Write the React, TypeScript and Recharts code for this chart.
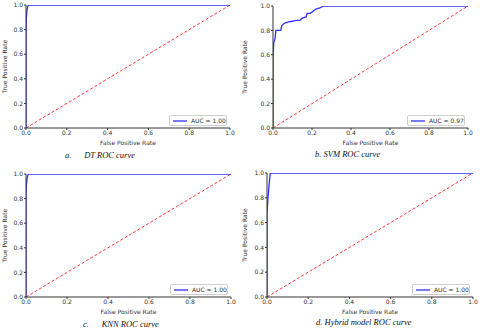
import { LineChart, Line, XAxis, YAxis, Legend } from 'recharts'

// ROC curves (fpr / tpr pairs)
const dtFpr = [0, 0, 0.002, 0.005, 0.009, 0.012, 1]
const dtTpr = [0, 0.8, 0.9, 0.96, 0.99, 1, 1]

const svmFpr = [0, 0, 0.004, 0.01, 0.015, 0.04, 0.045, 0.06, 0.08, 0.1, 0.11, 0.14, 0.15, 0.17, 0.175, 0.19, 0.2, 0.22, 0.24, 0.26, 1]
const svmTpr = [0, 0.58, 0.7, 0.73, 0.8, 0.8, 0.84, 0.86, 0.87, 0.875, 0.88, 0.885, 0.9, 0.91, 0.94, 0.94, 0.95, 0.975, 0.985, 1, 1]

const knnFpr = [0, 0, 0.002, 0.005, 0.009, 0.013, 1]
const knnTpr = [0, 0.82, 0.91, 0.96, 0.99, 1, 1]

const hybFpr = [0, 0, 0.005, 0.01, 0.016, 1]
const hybTpr = [0, 0.68, 0.8, 0.9, 1, 1]

const chanceFpr = [0, 1]
const chanceTpr = [0, 1]

const ticks = [0, 0.2, 0.4, 0.6, 0.8, 1]
const aucLabels = ['AUC = 1.00', 'AUC = 0.97', 'AUC = 1.00', 'AUC = 1.00']

const toPts = (xs: number[], ys: number[]) => xs.map((x, i) => ({ x, y: ys[i] }))

const FONT = '"DejaVu Sans", sans-serif'
const AXIS = '#333'

interface PanelProps {
  left: number
  top: number
  width: number
  height: number
  yw: number
  mTop: number
  mRight: number
  pts: { x: number; y: number }[]
  auc: string
}

function Panel({ left, top, width, height, yw, mTop, mRight, pts, auc }: PanelProps) {
  const xh = 18
  const legendW = 58
  const legendH = 11
  const plotBottom = height - xh
  const tickStyle = { fill: AXIS, fontSize: 6, fontFamily: FONT }
  return (
    <div style={{ position: 'absolute', left, top }}>
      <LineChart width={width} height={height} margin={{ top: mTop, right: mRight, left: 0, bottom: 0 }}>
        <XAxis
          type="number"
          dataKey="x"
          domain={[0, 1]}
          ticks={ticks}
          tickFormatter={(v) => v.toFixed(1)}
          tick={tickStyle}
          tickSize={2}
          tickMargin={1}
          stroke={AXIS}
          height={xh}
          allowDataOverflow
          label={{ value: 'False Positive Rate', position: 'insideBottom', offset: 1, fill: AXIS, fontSize: 6, fontFamily: FONT }}
        />
        <XAxis xAxisId="top" orientation="top" type="number" domain={[0, 1]} tick={false} tickLine={false} height={0} stroke={AXIS} />
        <YAxis
          type="number"
          dataKey="y"
          domain={[0, 1]}
          ticks={ticks}
          tickFormatter={(v) => v.toFixed(1)}
          tick={tickStyle}
          tickSize={2}
          tickMargin={1}
          stroke={AXIS}
          width={yw}
          allowDataOverflow
          label={{
            content: (p: any) => {
              const vb = p.viewBox
              const cx = vb.x + 4
              const cy = vb.y + vb.height / 2
              return (
                <text x={cx} y={cy} transform={`rotate(-90 ${cx} ${cy})`} textAnchor="middle" dominantBaseline="central" fill={AXIS} fontSize={6} fontFamily={FONT}>
                  True Positive Rate
                </text>
              )
            },
          }}
        />
        <YAxis yAxisId="right" orientation="right" type="number" domain={[0, 1]} tick={false} tickLine={false} width={0} stroke={AXIS} />
        <Line
          data={toPts(chanceFpr, chanceTpr)}
          dataKey="y"
          stroke="#ff2020"
          strokeWidth={0.9}
          strokeDasharray="3 2"
          dot={false}
          legendType="none"
          isAnimationActive={false}
        />
        <Line
          data={pts}
          dataKey="y"
          name={auc}
          type="linear"
          stroke="#3030ff"
          strokeWidth={1.3}
          dot={false}
          isAnimationActive={false}
        />
        <Legend
          layout="vertical"
          align="center"
          verticalAlign="middle"
          wrapperStyle={{ left: width - mRight - 3 - legendW, top: plotBottom - 2 - legendH, width: legendW, height: legendH }}
          content={(p: any) => {
            const item = (p.payload || []).find((e: any) => e.type !== 'none')
            return (
              <div style={{ boxSizing: 'border-box', width: legendW, height: legendH, border: '1px solid #d0d0d0', borderRadius: 2, background: '#fff', display: 'flex', alignItems: 'center', whiteSpace: 'nowrap', fontFamily: FONT, fontSize: 6, color: AXIS }}>
                <svg width={14} height={6} style={{ marginLeft: 3, marginRight: 4, flex: 'none' }}>
                  <line x1={0} y1={3} x2={14} y2={3} stroke="#3030ff" strokeWidth={1.3} />
                </svg>
                {item ? item.value : ''}
              </div>
            )
          }}
        />
      </LineChart>
    </div>
  )
}

const capStyle = {
  position: 'absolute' as const,
  fontFamily: '"Liberation Serif", serif',
  fontStyle: 'italic',
  fontSize: 8.5,
  color: '#111',
  whiteSpace: 'pre' as const,
  lineHeight: '10px',
}

export default function App() {
  return (
    <div style={{ position: 'absolute', left: 0, top: 0, width: 480, height: 330, background: '#fff', overflow: 'hidden' }}>
      <Panel left={0} top={0} width={240} height={146} yw={26} mTop={5} mRight={10} pts={toPts(dtFpr, dtTpr)} auc={aucLabels[0]} />
      <Panel left={240} top={0} width={240} height={146} yw={33} mTop={6} mRight={12} pts={toPts(svmFpr, svmTpr)} auc={aucLabels[1]} />
      <Panel left={0} top={165} width={240} height={150} yw={26} mTop={9} mRight={9} pts={toPts(knnFpr, knnTpr)} auc={aucLabels[2]} />
      <Panel left={240} top={165} width={240} height={150} yw={27} mTop={8} mRight={7} pts={toPts(hybFpr, hybTpr)} auc={aucLabels[3]} />
      <div style={{ ...capStyle, left: 65, top: 150 }}>{'a.      DT ROC curve'}</div>
      <div style={{ ...capStyle, left: 315, top: 149 }}>{'b. SVM ROC curve'}</div>
      <div style={{ ...capStyle, left: 83, top: 319 }}>{'c.      KNN ROC curve'}</div>
      <div style={{ ...capStyle, left: 316, top: 317 }}>{'d. Hybrid model ROC curve'}</div>
    </div>
  )
}
